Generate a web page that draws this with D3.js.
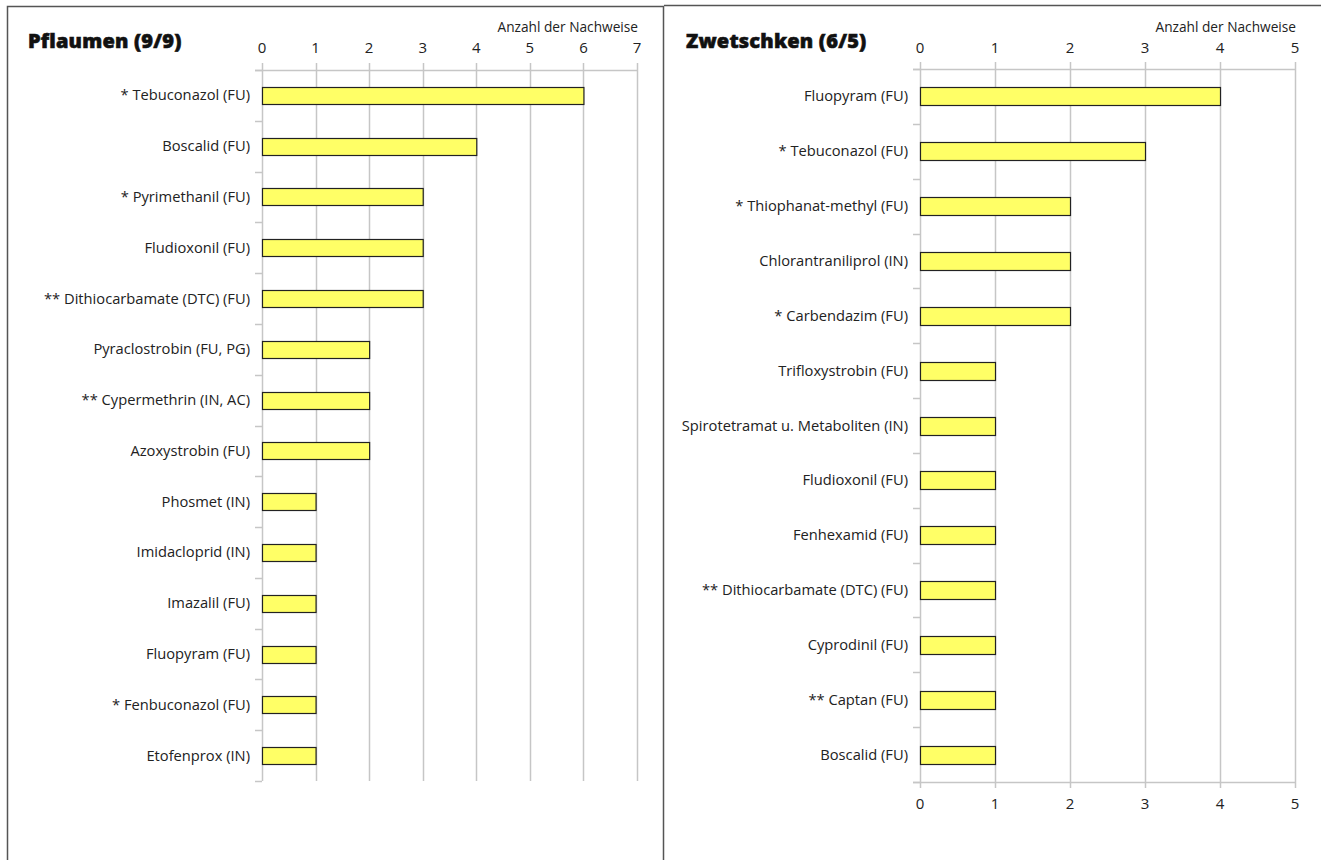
<!DOCTYPE html>
<html><head><meta charset="utf-8">
<script src="https://cdn.jsdelivr.net/npm/d3@7"></script>
<style>body{margin:0;background:#fff;}svg{display:block;font-family:"Open Sans",Lato,sans-serif;}</style>
</head><body>
<svg id="c" width="1321" height="860"></svg>
<script>
const leftTitle = "Pflaumen (9/9)";
const leftCategories = ["* Tebuconazol (FU)","Boscalid (FU)","* Pyrimethanil (FU)","Fludioxonil (FU)","** Dithiocarbamate (DTC) (FU)","Pyraclostrobin (FU, PG)","** Cypermethrin (IN, AC)","Azoxystrobin (FU)","Phosmet (IN)","Imidacloprid (IN)","Imazalil (FU)","Fluopyram (FU)","* Fenbuconazol (FU)","Etofenprox (IN)"];
const leftValues = [6,4,3,3,3,2,2,2,1,1,1,1,1,1];
const leftTicks = [0,1,2,3,4,5,6,7];

const rightTitle = "Zwetschken (6/5)";
const rightCategories = ["Fluopyram (FU)","* Tebuconazol (FU)","* Thiophanat-methyl (FU)","Chlorantraniliprol (IN)","* Carbendazim (FU)","Trifloxystrobin (FU)","Spirotetramat u. Metaboliten (IN)","Fludioxonil (FU)","Fenhexamid (FU)","** Dithiocarbamate (DTC) (FU)","Cyprodinil (FU)","** Captan (FU)","Boscalid (FU)"];
const rightValues = [4,3,2,2,2,1,1,1,1,1,1,1,1];
const rightTicks = [0,1,2,3,4,5];

const axisTitle = "Anzahl der Nachweise";

const svg = d3.select("#c");
svg.append("path").attr("d","M7.5,860 V6.5 H663.5 V860").attr("fill","none").attr("stroke","#555").attr("stroke-width",1.5);
svg.append("path").attr("d","M664,5.5 H1321").attr("fill","none").attr("stroke","#555").attr("stroke-width",1.5);

function panel(cfg){
  const g = svg.append("g");
  const x = d3.scaleLinear().domain([0, d3.max(cfg.ticks)]).range([cfg.x0, cfg.x1]);
  const y = d3.scaleBand().domain(cfg.cats).range([cfg.y0, cfg.y1]);
  g.selectAll(".grid").data(cfg.ticks).join("line")
    .attr("x1", d=>Math.round(x(d))+0.5).attr("x2", d=>Math.round(x(d))+0.5)
    .attr("y1", cfg.y0-7).attr("y2", cfg.y1 + (cfg.bottom?6:0))
    .attr("stroke","#c6c6c6").attr("stroke-width",1.5);
  g.append("line").attr("x1",cfg.x0-7).attr("x2",cfg.x1).attr("y1",cfg.y0+0.5).attr("y2",cfg.y0+0.5)
    .attr("stroke","#c6c6c6").attr("stroke-width",1.5);
  if(cfg.bottom){
    g.append("line").attr("x1",cfg.x0-7).attr("x2",cfg.x1).attr("y1",cfg.y1+0.5).attr("y2",cfg.y1+0.5)
      .attr("stroke","#c6c6c6").attr("stroke-width",1.5);
  }
  const bounds = cfg.cats.map(c=>y(c)).concat([cfg.y1]);
  g.selectAll(".yt").data(bounds).join("line")
    .attr("x1",cfg.x0-7).attr("x2",cfg.x0).attr("y1",d=>Math.round(d)+0.5).attr("y2",d=>Math.round(d)+0.5)
    .attr("stroke","#c6c6c6").attr("stroke-width",1.5);
  g.selectAll(".tl").data(cfg.ticks).join("text")
    .attr("x", d=>x(d)).attr("y", 53).attr("text-anchor","middle")
    .attr("font-size",15).attr("fill","#222").text(d=>d);
  if(cfg.bottom){
    g.selectAll(".tlb").data(cfg.ticks).join("text")
      .attr("x", d=>x(d)).attr("y", cfg.y1+27).attr("text-anchor","middle")
      .attr("font-size",15).attr("fill","#222").text(d=>d);
  }
  const bh = cfg.barH;
  g.selectAll(".bar").data(cfg.vals).join("rect")
    .attr("x", Math.round(x(0))+0.5)
    .attr("y", (d,i)=>Math.round(y(cfg.cats[i]) + y.bandwidth()/2 - bh/2)+0.5)
    .attr("width", d=>x(d)-x(0)).attr("height", bh)
    .attr("fill","#ffff66").attr("stroke","#222").attr("stroke-width",1.2);
  g.selectAll(".cl").data(cfg.cats).join("text")
    .attr("x", cfg.x0-12).attr("y", d=>y(d)+y.bandwidth()/2+5)
    .attr("text-anchor","end").attr("font-size",14.7).attr("fill","#222").text(d=>d);
  g.append("text").attr("x",cfg.titleX).attr("y",48).attr("font-size",20).attr("font-weight",800)
    .attr("fill","#111").attr("stroke","#111").attr("stroke-width",0.6).attr("letter-spacing",0.2).text(cfg.title);
  g.append("text").attr("x",cfg.x1+1).attr("y",32).attr("text-anchor","end").attr("font-size",13.7)
    .attr("fill","#222").text(axisTitle);
}

panel({title:leftTitle, titleX:28, cats:leftCategories, vals:leftValues, ticks:leftTicks,
  x0:262, x1:637, y0:70, y1:781, barH:17, bottom:false});
panel({title:rightTitle, titleX:686, cats:rightCategories, vals:rightValues, ticks:rightTicks,
  x0:920, x1:1295, y0:69, y1:782, barH:18, bottom:true});
</script>
</body></html>
